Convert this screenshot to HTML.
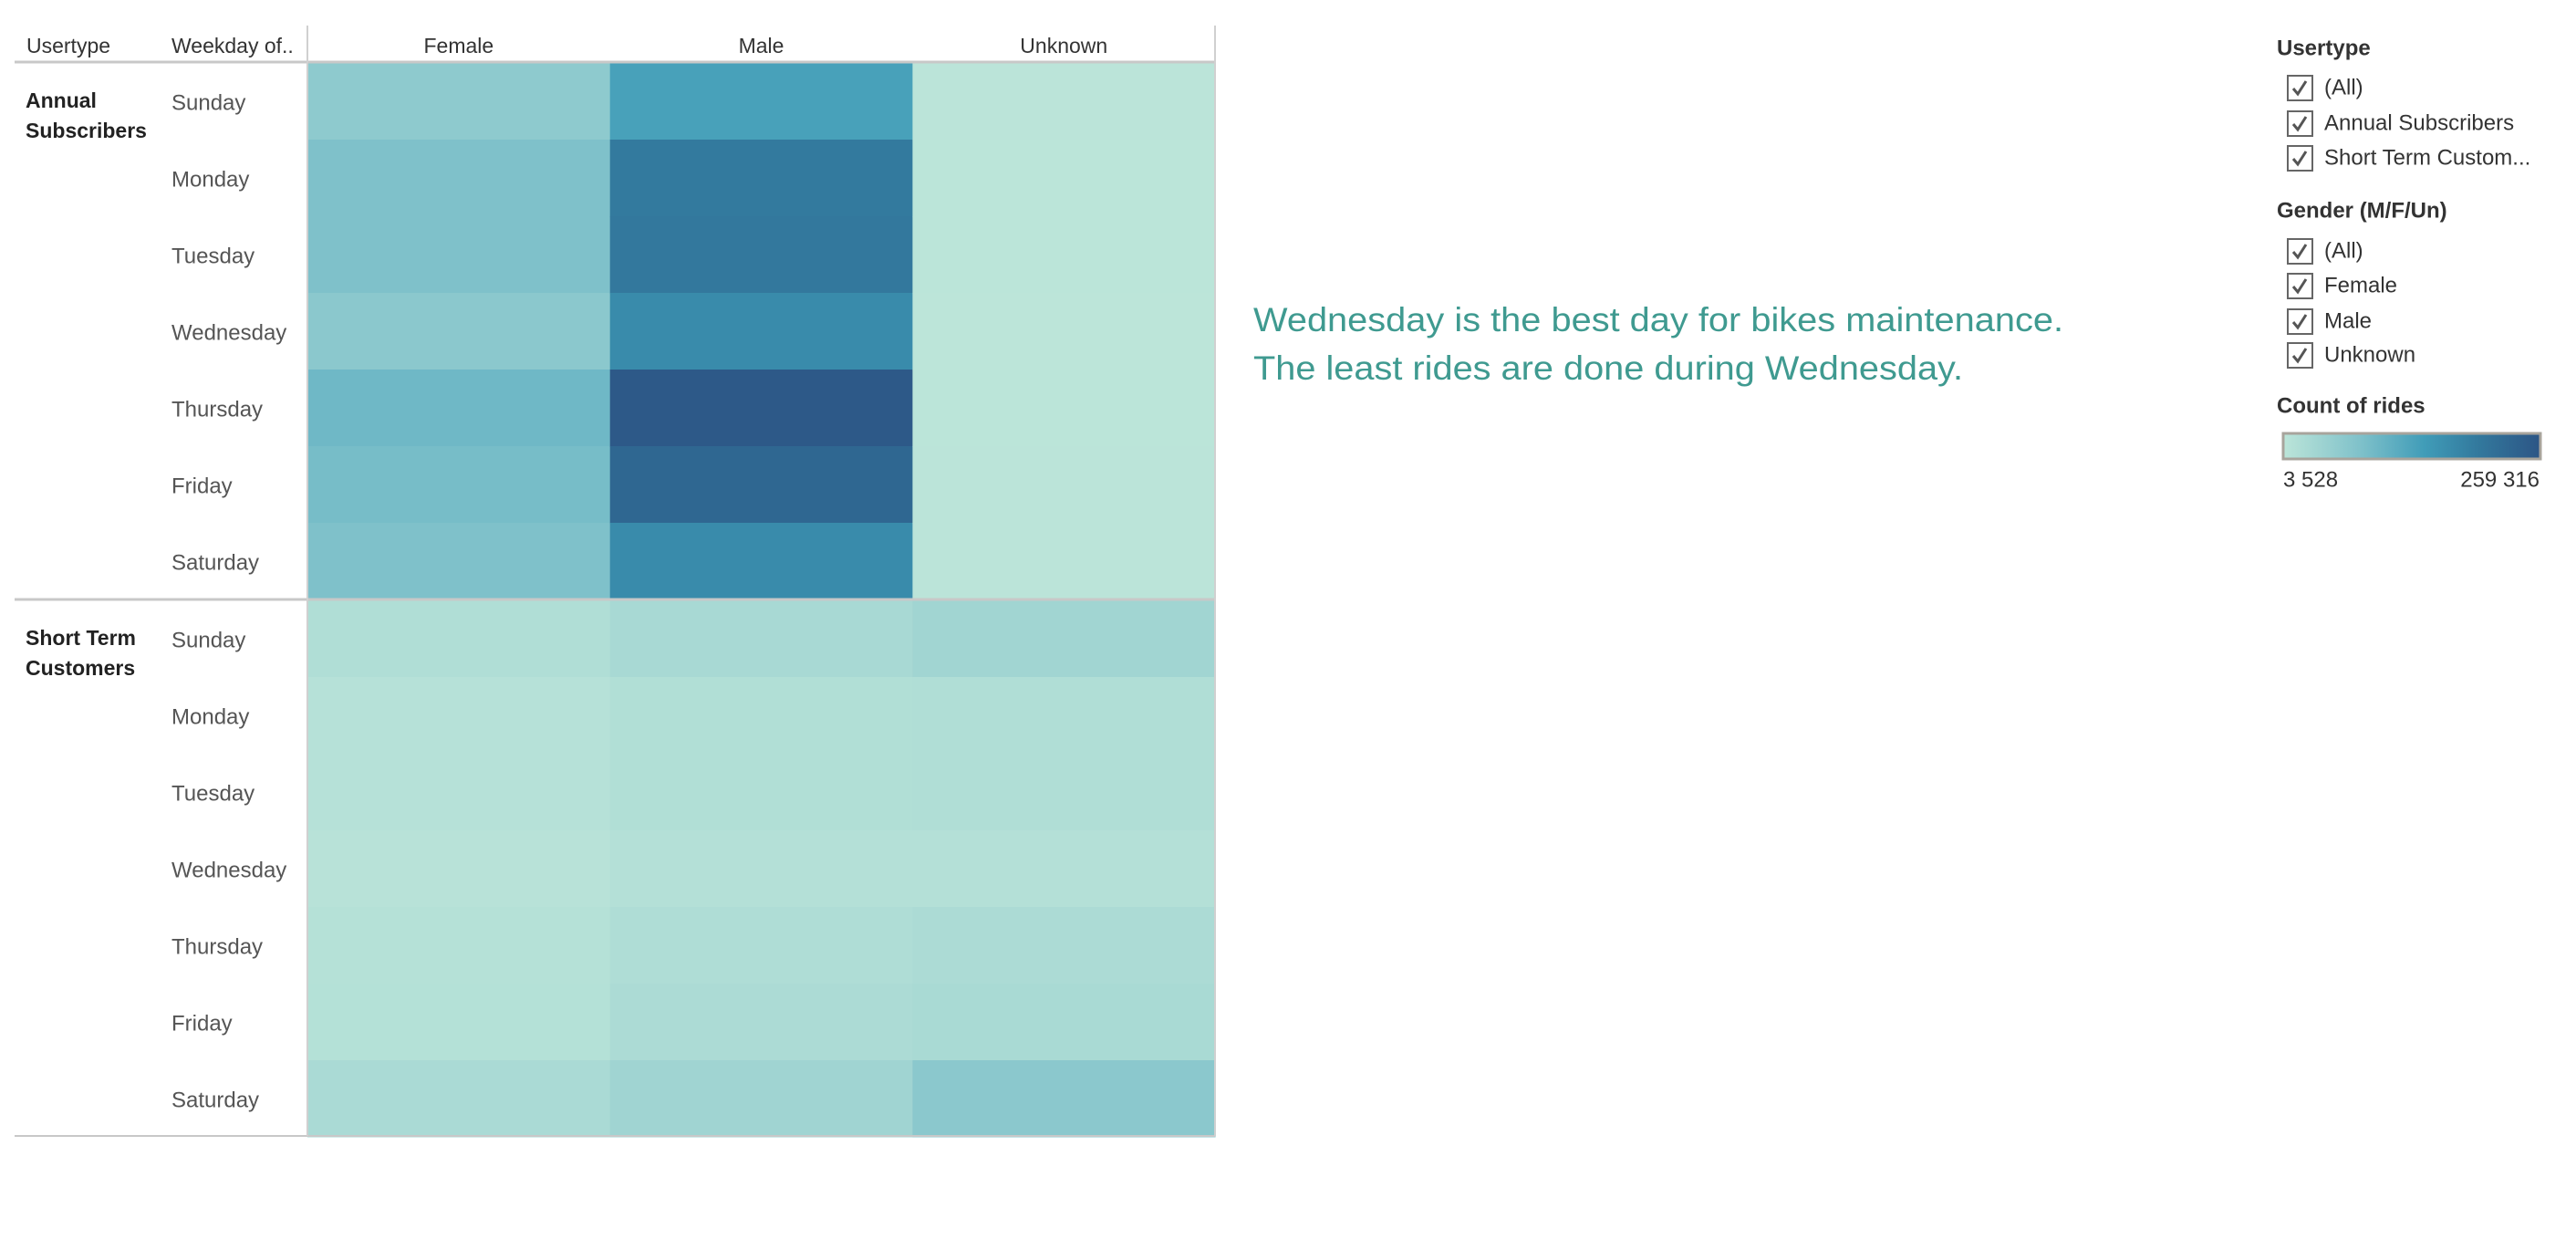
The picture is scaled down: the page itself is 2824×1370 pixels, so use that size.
<!DOCTYPE html>
<html><head><meta charset="utf-8"><style>
html,body{margin:0;padding:0;background:#fff;}
svg{display:block;font-family:"Liberation Sans",sans-serif;}
</style></head><body>
<svg id="chart" width="2824" height="1370" viewBox="0 0 2824 1370">
<g id="table"></g>
<g>
<text x="1374" y="363" font-size="37" fill="#3f9a90" textLength="888" lengthAdjust="spacingAndGlyphs">Wednesday is the best day for bikes maintenance.</text>
<text x="1374" y="416" font-size="37" fill="#3f9a90" textLength="778" lengthAdjust="spacingAndGlyphs">The least rides are done during Wednesday.</text>
</g>
<g id="legend"></g>
</svg>
<script>
const userTypes = ["Annual Subscribers", "Short Term Customers"];
const userTypeLines = [["Annual","Subscribers"],["Short Term","Customers"]];
const weekdays = ["Sunday","Monday","Tuesday","Wednesday","Thursday","Friday","Saturday"];
const genders = ["Female","Male","Unknown"];
const femaleValues = [62000,80000,80000,65000,96000,88000,80000, 19000,11000,11000,9000,12000,13000,26000];
const maleValues = [136000,195000,198000,170000,252000,229000,170000, 29000,17000,17000,14000,20000,24000,39000];
const unknownValues = [5000,4500,4500,3528,4500,4800,4800, 38000,18000,18000,14000,24000,28000,65000];
const colorMin = 3528, colorMax = 259316;
const colorLabels = ["3 528","259 316"];

const NS="http://www.w3.org/2000/svg";
function mk(tag, attrs, parent){const e=document.createElementNS(NS,tag);for(const k in attrs)e.setAttribute(k,attrs[k]);parent.appendChild(e);return e;}
const stops=[[0,[188,229,217]],[0.3,[127,193,202]],[0.55,[64,156,184]],[0.75,[51,122,158]],[1,[44,85,133]]];
function color(v){let t=(v-colorMin)/(colorMax-colorMin);t=Math.max(0,Math.min(1,t));
 for(let i=1;i<stops.length;i++){if(t<=stops[i][0]){const a=stops[i-1],b=stops[i];const f=(t-a[0])/(b[0]-a[0]);
 const c=a[1].map((x,j)=>Math.round(x+(b[1][j]-x)*f));return `rgb(${c})`;}}return "rgb(44,85,133)";}

const X0=337, colW=331.7, Y0=69, rowH=84;
const xOf=g=>X0+g*colW;
const yOf=r=>Y0+r*rowH + (r>=7?1:0);
const T=document.getElementById('table');
let h;
h=mk('text',{x:29,y:58,'font-size':23,fill:'#333'},T);h.textContent="Usertype";


h=mk('text',{x:188,y:58,'font-size':23,fill:'#333'},T);h.textContent="Weekday of..";


genders.forEach((g,i)=>{const t=mk('text',{x:xOf(i)+colW/2,y:58,'font-size':23,fill:'#333','text-anchor':'middle'},T);t.textContent=g;
 
 });
const series=[femaleValues,maleValues,unknownValues];
series.forEach((vals,gi)=>{vals.forEach((v,r)=>{
 const rc=mk('rect',{x:xOf(gi),y:yOf(r),width:colW+0.5,height:rowH+0.5,fill:color(v)},T);
 
 
});});
for(let r=0;r<14;r++){const t=mk('text',{x:188,y:yOf(r)+rowH/2+3,'font-size':24,fill:'#555','dominant-baseline':'middle'},T);t.textContent=weekdays[r%7];
 
 }
userTypeLines.forEach((lines,i)=>{lines.forEach((l,j)=>{const t=mk('text',{x:28,y:yOf(i*7)+49+j*33,'font-size':23,fill:'#222','font-weight':'bold'},T);t.textContent=l;
 
 });});
mk('line',{x1:16,y1:68,x2:1332,y2:68,stroke:'#c8c8c8','stroke-width':3},T);
mk('line',{x1:16,y1:657,x2:1332,y2:657,stroke:'#c8c8c8','stroke-width':3},T);
mk('line',{x1:16,y1:1245,x2:1332,y2:1245,stroke:'#c8c8c8','stroke-width':2},T);
mk('line',{x1:337,y1:28,x2:337,y2:1245,stroke:'#d0d0d0','stroke-width':2},T);
mk('line',{x1:1332,y1:28,x2:1332,y2:1245,stroke:'#d0d0d0','stroke-width':2},T);

const L=document.getElementById('legend');
function title(txt,y,name){const t=mk('text',{x:2496,y:y,'font-size':24,'font-weight':'bold',fill:'#333','dominant-baseline':'middle'},L);t.textContent=txt;
 
 }
function check(txt,y,name){const g=mk('g',{},L);
 
 
 mk('rect',{x:2508,y:y-13,width:27,height:27,fill:'#fff',stroke:'#666','stroke-width':2},g);
 mk('path',{d:`M${2514} ${y+1} l5 6 l9 -14`,fill:'none',stroke:'#555','stroke-width':3},g);
 const t=mk('text',{x:2548,y:y+1,'font-size':24,fill:'#333','dominant-baseline':'middle'},g);t.textContent=txt;}
title("Usertype",54,'usertype-filter-title');
check("(All)",96,'usertype-all-checkbox');
check("Annual Subscribers",135,'annual-subscribers-checkbox');
check("Short Term Custom...",173,'short-term-checkbox');
title("Gender (M/F/Un)",232,'gender-filter-title');
check("(All)",275,'gender-all-checkbox');
check("Female",313,'female-checkbox');
check("Male",352,'male-checkbox');
check("Unknown",389,'unknown-checkbox');
title("Count of rides",446,'color-legend-title');
const defs=mk('defs',{},L);const lg=mk('linearGradient',{id:'grad'},defs);
stops.forEach(s=>mk('stop',{offset:s[0],'stop-color':`rgb(${s[1]})`},lg));
const bar=mk('rect',{x:2503,y:475,width:282,height:28,fill:'url(#grad)',stroke:'#a8a49c','stroke-width':3},L);


let t1=mk('text',{x:2503,y:527,'font-size':24,fill:'#333','dominant-baseline':'middle'},L);t1.textContent=colorLabels[0];


let t2=mk('text',{x:2784,y:527,'font-size':24,fill:'#333','dominant-baseline':'middle','text-anchor':'end'},L);t2.textContent=colorLabels[1];


</script>
</body></html>
